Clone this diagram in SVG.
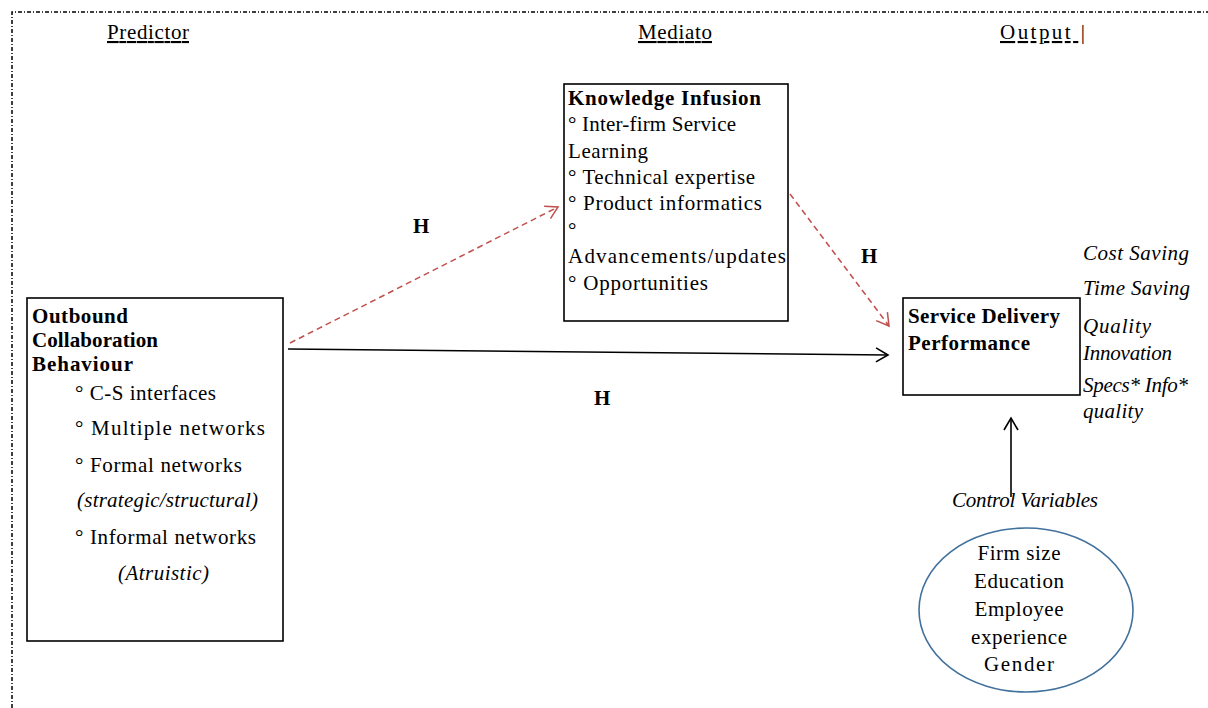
<svg xmlns="http://www.w3.org/2000/svg" width="1208" height="708" viewBox="0 0 1208 708">
<defs>
<style>
text{font-family:"Liberation Serif","DejaVu Serif",serif;font-size:21px;fill:#000}
.b{font-weight:bold}
.i{font-style:italic}
.u{text-decoration:underline}
.box{fill:#fff;stroke:#000;stroke-width:1.6}
.red{stroke:#c0504d;stroke-width:1.5;fill:none;stroke-dasharray:6 4}
.blk{stroke:#000;stroke-width:1.6;fill:none}
</style>
<marker id="ar" markerWidth="16" markerHeight="16" refX="14" refY="8" orient="auto" markerUnits="userSpaceOnUse"><path d="M2,1 L14,8 L2,15" fill="none" stroke="#000" stroke-width="1.6"/></marker>
<marker id="arr" markerWidth="16" markerHeight="16" refX="14" refY="8" orient="auto" markerUnits="userSpaceOnUse"><path d="M2,1 L14,8 L2,15" fill="none" stroke="#c0504d" stroke-width="1.5"/></marker>
</defs>
<rect width="1208" height="708" fill="#fff"/>
<path d="M12,708 L12,12 L1208,12" fill="none" stroke="#000" stroke-width="1.5" stroke-dasharray="4 2 1 2"/>
<g id="headers" lengthAdjust="spacing">
<text x="107" y="39" class="u" textLength="82">Predictor</text>
<text x="638" y="39" class="u" textLength="74">Mediato</text>
<text x="1000" y="39" class="u" textLength="85">Output |</text>
</g>
<g id="connectors">
<line x1="288" y1="349" x2="888" y2="355" class="blk" marker-end="url(#ar)"/>
<line x1="290" y1="343" x2="558" y2="207" class="red" marker-end="url(#arr)"/>
<line x1="790" y1="194" x2="889" y2="326" class="red" marker-end="url(#arr)"/>
<line x1="1011" y1="497" x2="1011" y2="418" class="blk" marker-end="url(#ar)"/>
<text x="413" y="233" class="b">H</text>
<text x="861" y="263" class="b">H</text>
<text x="594" y="405" class="b">H</text>
</g>
<g id="ocb">
<rect x="27" y="298" width="256" height="343" class="box"/>
<text x="32" y="323" class="b" textLength="96">Outbound</text>
<text x="32" y="347" class="b" textLength="126">Collaboration</text>
<text x="32" y="371" class="b" textLength="101">Behaviour</text>
<text x="75" y="400" textLength="141">°  C-S interfaces</text>
<text x="75" y="435" textLength="190">°  Multiple networks</text>
<text x="75" y="472" textLength="167">° Formal networks</text>
<text x="77" y="507" class="i" textLength="181">(strategic/structural)</text>
<text x="75" y="544" textLength="181">° Informal networks</text>
<text x="118" y="580" class="i" textLength="91">(Atruistic)</text>
</g>
<g id="ki">
<rect x="564" y="84" width="224" height="237" class="box"/>
<text x="568" y="105" class="b" textLength="193">Knowledge  Infusion</text>
<text x="568" y="131" textLength="168">° Inter-firm Service</text>
<text x="568" y="158" textLength="80">Learning</text>
<text x="568" y="184" textLength="187">°  Technical expertise</text>
<text x="568" y="210" textLength="194">°  Product informatics</text>
<text x="568" y="237">°</text>
<text x="568" y="263" textLength="218">Advancements/updates</text>
<text x="568" y="290" textLength="140">° Opportunities</text>
</g>
<g id="sdp">
<rect x="903" y="298" width="177" height="97" class="box"/>
<text x="908" y="323" class="b" textLength="152">Service Delivery</text>
<text x="908" y="350" class="b" textLength="122">Performance</text>
</g>
<g id="outcomes">
<text x="1083" y="260" class="i" textLength="106">Cost  Saving</text>
<text x="1083" y="295" class="i" textLength="107">Time  Saving</text>
<text x="1083" y="333" class="i" textLength="68">Quality</text>
<text x="1083" y="360" class="i" textLength="89">Innovation</text>
<text x="1083" y="392" class="i" textLength="105">Specs* Info*</text>
<text x="1083" y="418" class="i" textLength="60">quality</text>
</g>
<g id="controls">
<text x="952" y="507" class="i" textLength="146">Control  Variables</text>
<ellipse cx="1026" cy="610" rx="107" ry="82" fill="none" stroke="#41719c" stroke-width="1.6"/>
<g text-anchor="middle">
<text x="1019" y="560" textLength="83">Firm size</text>
<text x="1019" y="588" textLength="90">Education</text>
<text x="1019" y="616" textLength="89">Employee</text>
<text x="1019" y="644" textLength="96">experience</text>
<text x="1019" y="671" textLength="70">Gender</text>
</g>
</g>
</svg>
